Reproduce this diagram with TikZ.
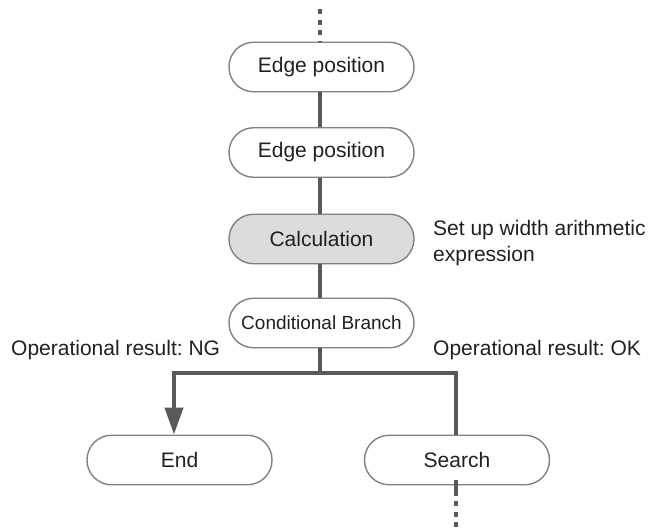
\documentclass[tikz,border=0pt]{standalone}
\usepackage{fontspec}
\setmainfont{Liberation Sans}
\frenchspacing
\usetikzlibrary{arrows.meta}
\definecolor{txt}{HTML}{231F20}
\definecolor{bord}{HTML}{808080}
\definecolor{conn}{HTML}{595959}
\definecolor{calcfill}{HTML}{DCDCDC}
\tikzset{
  flowbox/.style={draw=bord, line width=1.4pt, rounded corners=24.5pt, minimum width=185pt, minimum height=49.5pt, inner sep=0pt, text=txt, font=\fontsize{21}{25}\selectfont},
  conline/.style={draw=conn, line width=4pt},
  dotline/.style={draw=conn, line width=3.8pt, dash pattern=on 5pt off 5.5pt},
  lbl/.style={text=txt, font=\fontsize{21}{26}\selectfont, inner sep=0pt, anchor=base west, align=left}
}
\begin{document}
\begin{tikzpicture}[x=1pt,y=-1pt]
\useasboundingbox (0,0) rectangle (649,531);
\node[flowbox] (e1) at (321.5,67) {Edge position};
\node[flowbox] (e2) at (321.5,152.5) {Edge position};
\node[flowbox, fill=calcfill] (calc) at (321.5,239) {Calculation};
\node[flowbox, font=\fontsize{19}{23}\selectfont] (cond) at (321.5,323) {Conditional Branch};
\node[flowbox] (end) at (179.5,460) {End};
\node[flowbox] (search) at (457,460) {Search};

\coordinate (topdot) at (320,9);
\coordinate (botdot) at (456,531);
\coordinate (split) at (320,373);
\coordinate (lefc) at (174,373);
\coordinate (rigc) at (456,373);

\draw[dotline] (topdot) -- (topdot |- e1.north);
\draw[conline] (e1.south -| topdot) -- (e2.north -| topdot);
\draw[conline] (e2.south -| topdot) -- (calc.north -| topdot);
\draw[conline] (calc.south -| topdot) -- (cond.north -| topdot);
\draw[conline] (cond.south -| topdot) -- (split);
\draw[conline, -{Triangle[width=18pt,length=27pt]}] (split) -- (lefc) -- (lefc |- end.north);
\draw[conline] (split) -- (rigc) -- (rigc |- search.north);
\draw[conline] (search.south -| botdot) -- ++(0,10);
\draw[dotline] ([yshift=10pt]search.south -| botdot) ++(0,5) -- (botdot);

\node[lbl] (note) at (433,261.5) {Set up width arithmetic\\expression};
\node[lbl] (ng) at (11,355) {Operational result: NG};
\node[lbl] (ok) at (433,355) {Operational result: OK};
\end{tikzpicture}
\end{document}
